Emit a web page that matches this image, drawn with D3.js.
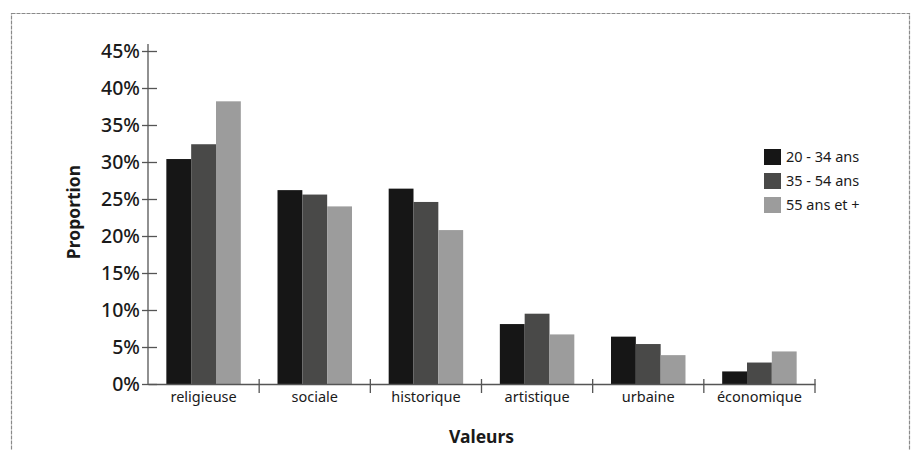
<!DOCTYPE html>
<meta charset="utf-8">
<script src="https://d3js.org/d3.v7.min.js"></script>
<style>
  body { margin: 0; background: #fff; }
  text { font-family: "Noto Sans", "Open Sans", sans-serif; fill: #1a1a1a; }
</style>
<body>
<div id="chart"></div>
<script>
// data
var categories = ["religieuse", "sociale", "historique", "artistique", "urbaine", "économique"];
var groups = ["20 - 34 ans", "35 - 54 ans", "55 ans et +"];
var young  = [30.4, 26.2, 26.4, 8.1, 6.4, 1.7];
var middle = [32.4, 25.6, 24.6, 9.5, 5.4, 2.9];
var older  = [38.2, 24.0, 20.8, 6.7, 3.9, 4.4];
var yTicks = [0, 5, 10, 15, 20, 25, 30, 35, 40, 45];
var colors = ["#161616", "#494948", "#9c9c9c"];

var series = [young, middle, older];
var data = categories.map(function(c, i) {
  return { cat: c, values: series.map(function(s, j) { return { key: groups[j], value: s[i] }; }) };
});

var W = 915, H = 450;
var margin = {top: 51, left: 148, right: 100, bottom: 66};

var svg = d3.select("#chart").append("svg")
  .attr("width", W).attr("height", H);

// frame around the figure
svg.append("rect")
  .attr("x", 11.5).attr("y", 13.5)
  .attr("width", 898).attr("height", 460)
  .attr("fill", "none")
  .attr("stroke", "#8a8a8a")
  .attr("stroke-width", 1.2)
  .attr("stroke-dasharray", "4,1");

var x0 = d3.scaleBand()
  .domain(categories)
  .range([margin.left, W - margin.right]);

var pad = x0.bandwidth() * 0.165;
var x1 = d3.scaleBand()
  .domain(groups)
  .range([pad, x0.bandwidth() - pad]);

var y = d3.scaleLinear()
  .domain([0, 45])
  .range([H - margin.bottom, margin.top]);

var color = d3.scaleOrdinal().domain(groups).range(colors);

// bars
svg.append("g").selectAll("g")
  .data(data)
  .join("g")
    .attr("transform", function(d) { return "translate(" + x0(d.cat) + ",0)"; })
  .selectAll("rect")
  .data(function(d) { return d.values; })
  .join("rect")
    .attr("x", function(d) { return x1(d.key); })
    .attr("width", x1.bandwidth())
    .attr("y", function(d) { return y(d.value); })
    .attr("height", function(d) { return y(0) - y(d.value); })
    .attr("fill", function(d) { return color(d.key); });

// y axis
var yAxis = svg.append("g")
  .attr("transform", "translate(" + margin.left + ",0)")
  .call(d3.axisLeft(y).tickValues(yTicks).tickSize(0).tickPadding(8)
    .tickFormat(function(d) { return d + "%"; }));
yAxis.select(".domain").remove();
yAxis.append("line")
  .attr("x1", 0).attr("x2", 0)
  .attr("y1", y(0)).attr("y2", margin.top - 7)
  .attr("stroke", "#555").attr("stroke-width", 1.3);
yAxis.selectAll(".tick").append("line")
  .attr("x1", -6).attr("x2", 9)
  .attr("stroke", "#555").attr("stroke-width", 1.3);
yAxis.selectAll(".tick text")
  .style("font-size", "19.5px")
  .style("font-weight", "500")
  .attr("fill", "#1a1a1a");

// x axis
var xAxis = svg.append("g")
  .attr("transform", "translate(0," + y(0) + ")")
  .call(d3.axisBottom(x0).tickSize(0).tickPadding(8));
xAxis.select(".domain")
  .attr("stroke", "#555").attr("stroke-width", 1.3);
xAxis.selectAll(".tick text")
  .style("font-size", "14.5px")
  .attr("fill", "#1a1a1a");
xAxis.selectAll(".sep")
  .data(categories)
  .join("line")
    .attr("class", "sep")
    .attr("x1", function(d) { return x0(d) + x0.bandwidth(); })
    .attr("x2", function(d) { return x0(d) + x0.bandwidth(); })
    .attr("y1", -5).attr("y2", 9)
    .attr("stroke", "#555").attr("stroke-width", 1.3);

// axis titles
svg.append("text")
  .attr("x", (margin.left + W - margin.right) / 2)
  .attr("y", 443)
  .attr("text-anchor", "middle")
  .style("font-size", "17.5px").style("font-weight", "bold")
  .text("Valeurs");

svg.append("text")
  .attr("transform", "translate(80,212) rotate(-90)")
  .attr("text-anchor", "middle")
  .style("font-size", "17.5px").style("font-weight", "bold")
  .text("Proportion");

// legend
var legend = svg.append("g")
  .attr("transform", "translate(764,149)");
var item = legend.selectAll("g")
  .data(groups)
  .join("g")
    .attr("transform", function(d, i) { return "translate(0," + i * 24 + ")"; });
item.append("rect")
  .attr("width", 17).attr("height", 16)
  .attr("fill", function(d) { return color(d); });
item.append("text")
  .attr("x", 22).attr("y", 13)
  .style("font-size", "14.5px")
  .text(function(d) { return d; });
</script>
</body>
